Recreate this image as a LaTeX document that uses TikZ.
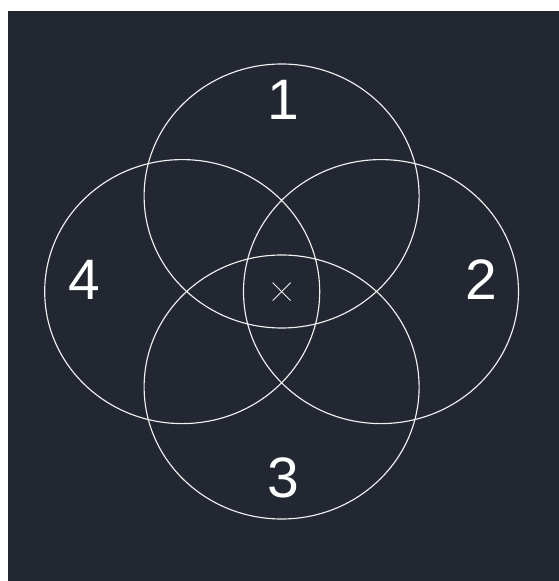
\documentclass[tikz,border=0pt]{standalone}
\usepackage{fontspec}
\setmainfont{Liberation Sans}
\usetikzlibrary{calc}
\definecolor{bgdark}{HTML}{222731}
\definecolor{linecol}{HTML}{F0F0F0}
\begin{document}
\begin{tikzpicture}[x=1pt,y=1pt,
  ring/.style={draw=linecol,line width=1.15pt},
  lbl/.style={text=white,font=\fontsize{57}{60}\selectfont,inner sep=0pt}]
\useasboundingbox (0,0) rectangle (559,581);
\fill[white] (0,0) rectangle (559,581);
\fill[bgdark] (8,0) rectangle (559,570);
\coordinate (c) at (281.6,289.4);
\draw[ring] (281.6,385) ellipse [x radius=137.5,y radius=132];
\draw[ring] (381,289.4) ellipse [x radius=137.5,y radius=132];
\draw[ring] (281.6,194) ellipse [x radius=137.5,y radius=132];
\draw[ring] (182.2,289.4) ellipse [x radius=137.5,y radius=132];
\draw[draw=linecol,line width=0.9pt] ($(c)+(-9,-9)$) -- ($(c)+(9,9)$);
\draw[draw=linecol,line width=0.9pt] ($(c)+(-9,9)$) -- ($(c)+(9,-9)$);
\node[lbl] (l1) at (283.4,481.2) {1};
\node[lbl] (l2) at (481,301) {2};
\node[lbl] (l3) at (283.4,103.3) {3};
\node[lbl] (l4) at (84.8,301) {4};
\end{tikzpicture}
\end{document}
